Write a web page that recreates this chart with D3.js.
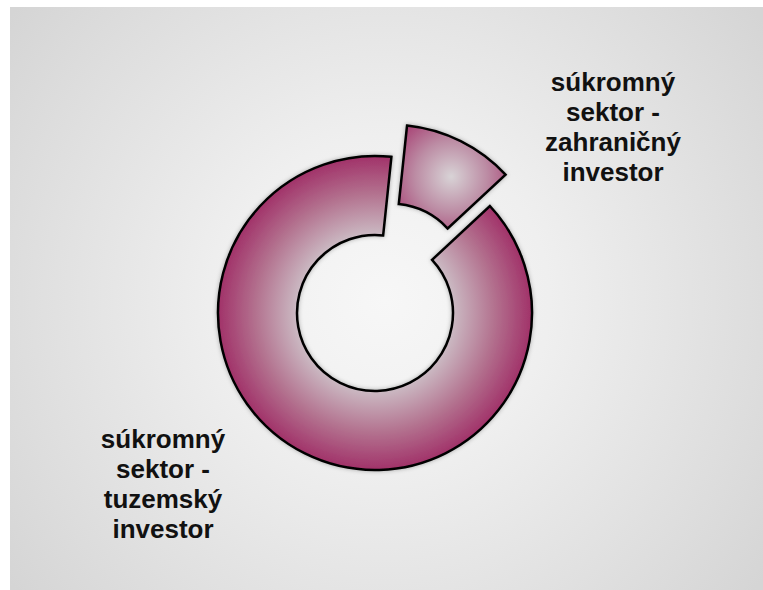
<!DOCTYPE html>
<html>
<head>
<meta charset="utf-8">
<script src="https://cdn.jsdelivr.net/npm/d3@7"></script>
<style>
  html, body { margin: 0; padding: 0; background: #ffffff; }
  svg { display: block; }
</style>
</head>
<body>
<script>
// ---- data ----
const categories = ["súkromný sektor - zahraničný investor", "súkromný sektor - tuzemský investor"];
const values = [11.4, 88.6];
const labelLines = [
  ["súkromný", "sektor -", "zahraničný", "investor"],
  ["súkromný", "sektor -", "tuzemský", "investor"]
];
const exploded = [true, false];

// ---- layout ----
const W = 763, H = 590;
const cx = 375, cy = 313;
const outerR = 157, innerR = 78;
const explodeDist = 35;
const startDeg = 6;
const labelPos = [{x: 613, y: 91}, {x: 163, y: 448}];
const lineH = 30;

const svg = d3.select("body").append("svg").attr("width", W).attr("height", H);
const defs = svg.append("defs");

// background gradient
const bg = defs.append("radialGradient").attr("id", "bgGrad")
  .attr("gradientUnits", "userSpaceOnUse")
  .attr("cx", 385).attr("cy", 300).attr("r", 470);
bg.append("stop").attr("offset", 0).attr("stop-color", "#f7f7f7");
bg.append("stop").attr("offset", 0.35).attr("stop-color", "#efefef");
bg.append("stop").attr("offset", 1).attr("stop-color", "#d5d5d5");

svg.append("rect").attr("x", 10).attr("y", 7).attr("width", W - 10).attr("height", H - 7)
  .attr("fill", "url(#bgGrad)");

// ring gradient (big slice), in the slice's local coordinates
const ringG = defs.append("radialGradient").attr("id", "ringGrad")
  .attr("gradientUnits", "userSpaceOnUse")
  .attr("cx", 0).attr("cy", 0).attr("r", outerR);
ringG.append("stop").attr("offset", innerR / outerR).attr("stop-color", "#cbbac3");
ringG.append("stop").attr("offset", 0.76).attr("stop-color", "#b3728f");
ringG.append("stop").attr("offset", 1).attr("stop-color", "#a13269");

const shadow = defs.append("filter").attr("id", "shadow")
  .attr("x", "-20%").attr("y", "-20%").attr("width", "140%").attr("height", "140%");
shadow.append("feDropShadow").attr("dx", 0).attr("dy", 0).attr("stdDeviation", 2)
  .attr("flood-color", "#000").attr("flood-opacity", 0.3);

const pie = d3.pie().sort(null).value(d => d)
  .startAngle(startDeg * Math.PI / 180)
  .endAngle(startDeg * Math.PI / 180 + 2 * Math.PI);
const arcs = pie(values);
const arc = d3.arc().innerRadius(innerR).outerRadius(outerR);

arcs.forEach((a, i) => {
  const mid = (a.startAngle + a.endAngle) / 2;
  const dx = exploded[i] ? explodeDist * Math.sin(mid) : 0;
  const dy = exploded[i] ? -explodeDist * Math.cos(mid) : 0;
  let fill = "url(#ringGrad)";
  if (exploded[i]) {
    const c = arc.centroid(a);
    const gid = "sliceGrad" + i;
    const sg = defs.append("radialGradient").attr("id", gid)
      .attr("gradientUnits", "userSpaceOnUse")
      .attr("cx", c[0] + 8).attr("cy", c[1]).attr("r", 72);
    sg.append("stop").attr("offset", 0).attr("stop-color", "#d8d3d6");
    sg.append("stop").attr("offset", 0.5).attr("stop-color", "#bc8ca4");
    sg.append("stop").attr("offset", 1).attr("stop-color", "#a4366d");
    fill = `url(#${gid})`;
  }
  const sl = svg.append("g").attr("transform", `translate(${cx + dx},${cy + dy})`);
  sl.append("path")
    .attr("d", arc(a))
    .attr("fill", fill)
    .attr("stroke", "#000")
    .attr("stroke-width", 2.5)
    .attr("stroke-linejoin", "miter")
    .attr("filter", "url(#shadow)");
});

// labels
labelLines.forEach((lines, i) => {
  const t = svg.append("text")
    .attr("text-anchor", "middle")
    .attr("font-family", "'Liberation Sans', Arial, sans-serif")
    .attr("font-weight", "bold")
    .attr("font-size", 26)
    .attr("fill", "#111");
  lines.forEach((ln, j) => {
    t.append("tspan").attr("x", labelPos[i].x).attr("y", labelPos[i].y + j * lineH).text(ln);
  });
});
</script>
</body>
</html>
